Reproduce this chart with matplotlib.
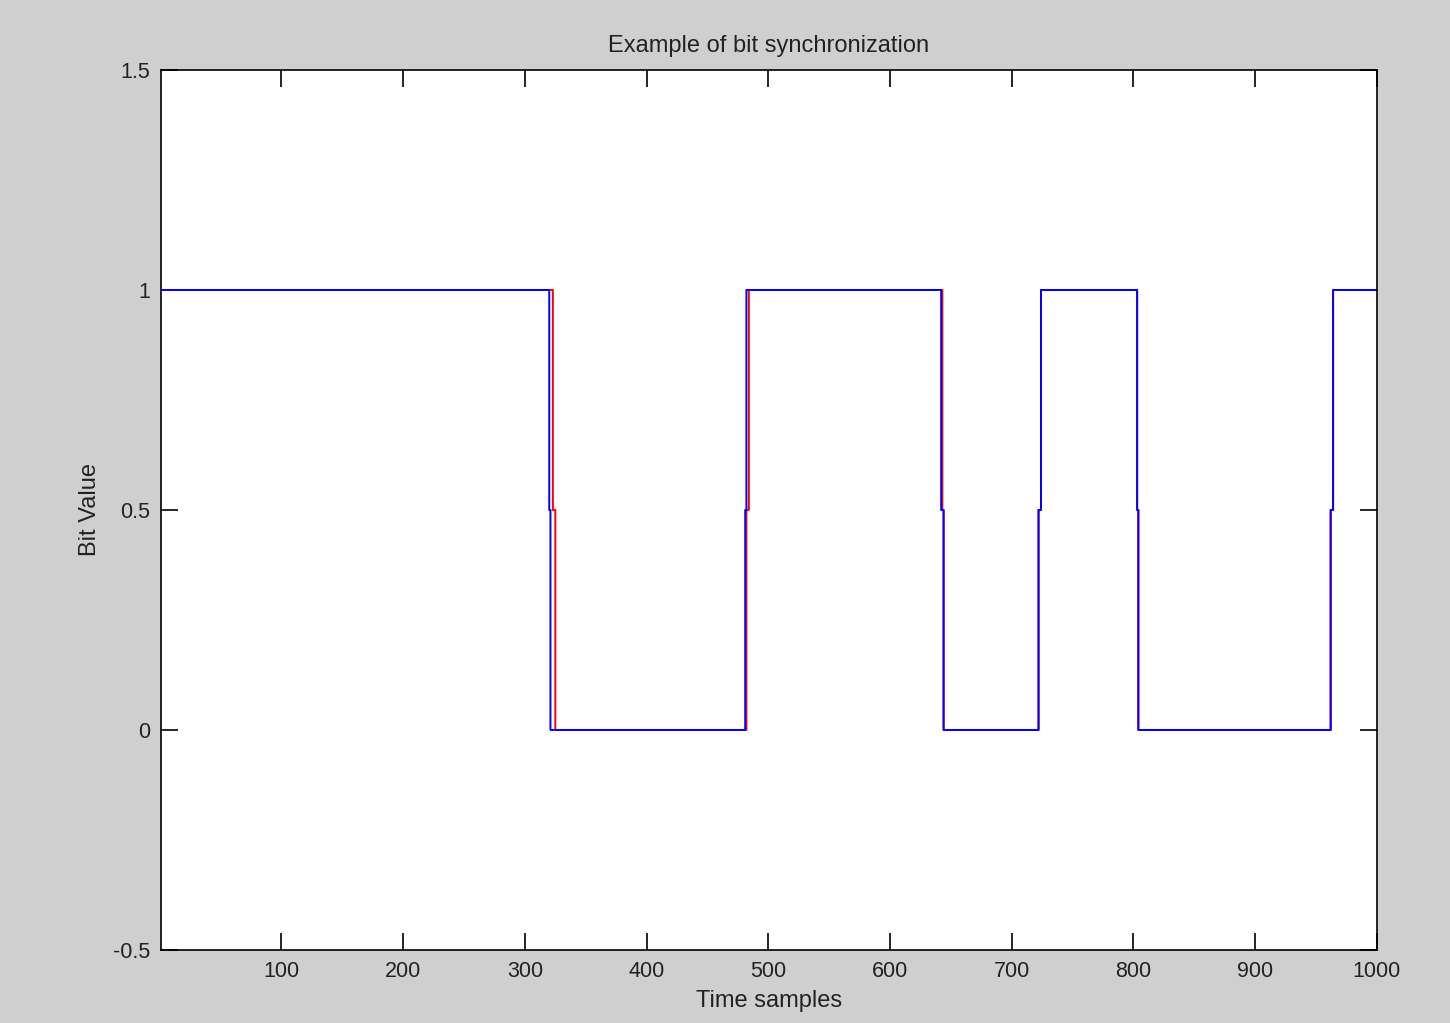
import numpy as np
import matplotlib
matplotlib.use("Agg")
import matplotlib.pyplot as plt

plt.rcParams['font.family'] = ['Liberation Sans', 'DejaVu Sans']

n_samples = 1000

# each signal given as (first sample, value) segments; 0.5 marks the transition sample
blue_starts = [1, 320, 321, 481, 482, 642, 644, 722, 724, 803, 804, 962, 964]
blue_values = [1, 0.5, 0, 0.5, 1, 0.5, 0, 0.5, 1, 0.5, 0, 0.5, 1]

red_starts = [1, 323, 325, 482, 484, 643, 644, 722, 724, 803, 804, 962, 964]
red_values = [1, 0.5, 0, 0.5, 1, 0.5, 0, 0.5, 1, 0.5, 0, 0.5, 1]

x_ticks = [100, 200, 300, 400, 500, 600, 700, 800, 900, 1000]
y_ticks = [-0.5, 0, 0.5, 1, 1.5]
y_ticklabels = ['-0.5', '0', '0.5', '1', '1.5']


def build(starts, values):
    lengths = np.diff(np.array(starts + [n_samples + 1]))
    return np.repeat(values, lengths)


t = np.arange(1, n_samples + 1)
blue = build(blue_starts, blue_values)
red = build(red_starts, red_values)

fig = plt.figure(figsize=(14.5, 10.23), dpi=100, facecolor='#cfcfcf')
ax = fig.add_axes([0.111, 0.0714, 0.8386, 0.8602])
ax.set_facecolor('white')

ax.plot(t, red, color='#ff0000', lw=1.4, drawstyle='steps-post')
ax.plot(t, blue, color='#0000ff', lw=1.4, drawstyle='steps-post')

ax.set_xlim(1, 1000)
ax.set_ylim(-0.5, 1.5)
ax.set_xticks(x_ticks)
ax.set_yticks(y_ticks)
ax.set_yticklabels(y_ticklabels)
ax.tick_params(direction='in', length=12, width=1.2, top=True, right=True,
               labelsize=15.5, pad=8, colors='black', labelcolor='#222222')
for s in ax.spines.values():
    s.set_linewidth(1.2)

ax.set_title('Example of bit synchronization', fontsize=17, pad=13, color='#222222')
ax.set_xlabel('Time samples', fontsize=17, labelpad=6, color='#222222')
ax.set_ylabel('Bit Value', fontsize=17, labelpad=8, color='#222222')

fig.savefig('out.png', dpi=100, facecolor=fig.get_facecolor())
